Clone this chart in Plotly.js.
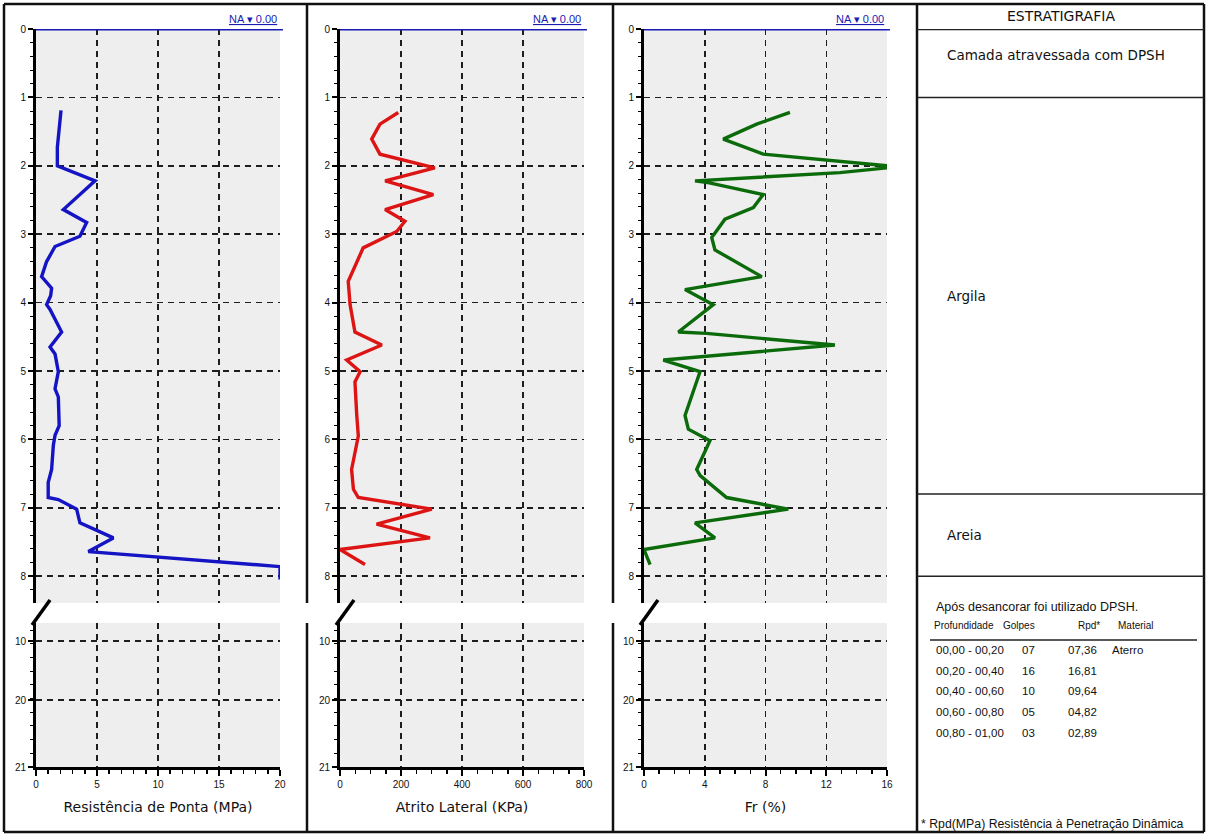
<!DOCTYPE html>
<html>
<head>
<meta charset="utf-8">
<script src="https://cdn.plot.ly/plotly-3.0.1.min.js"></script>
<style>html,body{margin:0;padding:0;background:#fff;}#chart{width:1207px;height:836px;}</style>
</head>
<body>
<div id="chart"></div>
<script>
// ---------------- DATA ----------------
const naDepth = 0.00;
const naLabel = 'NA ▾ 0.00';

// Resistência de Ponta (MPa)
const qcDepth = [1.19,1.50,1.73,2.00,2.22,2.64,2.83,3.03,3.18,3.40,3.62,3.79,3.90,4.03,4.10,4.43,4.65,4.75,5.01,5.26,5.38,5.80,5.94,6.09,6.44,6.63,6.85,6.88,7.02,7.22,7.44,7.64,7.86,8.05];
const qcValue = [2.05,1.90,1.75,1.75,4.84,2.24,4.15,3.60,1.56,0.87,0.46,1.28,1.20,0.87,1.15,2.10,1.15,1.56,1.83,1.56,1.83,1.90,1.56,1.42,1.28,1.00,1.00,1.83,3.33,3.60,6.34,4.29,20.0,20.0];

// Atrito Lateral (KPa)
const fsDepth = [1.22,1.39,1.61,1.83,2.03,2.22,2.42,2.64,2.81,2.96,3.20,3.40,3.69,4.03,4.43,4.62,4.84,5.01,5.16,5.65,5.95,6.44,6.73,6.85,7.02,7.24,7.44,7.61,7.83];
const fsValue = [191,131,104,131,311,148,306,148,213,186,76,55,27,33,49,137,22,66,49,55,60,38,44,60,301,120,295,0,82];

// Fr (%)
const frDepth = [1.22,1.39,1.61,1.83,2.00,2.03,2.10,2.22,2.25,2.42,2.61,2.78,3.05,3.23,3.62,3.81,4.03,4.43,4.45,4.62,4.84,5.01,5.65,5.85,6.02,6.44,6.53,6.85,7.02,7.22,7.44,7.61,7.83];
const frValue = [9.61,7.42,5.22,7.85,16.0,16.0,12.9,3.36,4.30,7.85,7.20,5.33,4.46,4.67,7.75,2.70,4.56,2.26,4.10,12.57,1.27,3.69,2.70,2.92,4.34,3.47,3.70,5.44,9.50,3.36,4.67,0.00,0.40];

// Axis titles and tick settings
const xTitles = ['Resistência de Ponta (MPa)', 'Atrito Lateral (KPa)', 'Fr (%)'];
const xRanges = [[0,20],[0,800],[0,16]];
const xMajor = [5, 200, 4];
const xMinor = [1, 50, 1];
const lowerTickText = ['10','20','21'];

// Stratigraphy
const stratHeader = 'ESTRATIGRAFIA';
const stratNames = ['Camada atravessada com DPSH', 'Argila', 'Areia'];
const stratTop = [0.0, 1.0, 6.8];
const stratBottom = [1.0, 6.8, 8.0];

// DPSH table
const dpshIntro = 'Após desancorar foi utilizado DPSH.';
const dpshHeaders = ['Profundidade', 'Golpes', 'Rpd*', 'Material'];
const dpshDepth = ['00,00 - 00,20','00,20 - 00,40','00,40 - 00,60','00,60 - 00,80','00,80 - 01,00'];
const dpshGolpes = ['07','16','10','05','03'];
const dpshRpd = ['07,36','16,81','09,64','04,82','02,89'];
const dpshMaterial = ['Aterro','','','',''];
const dpshNote = '* Rpd(MPa) Resistência à Penetração Dinâmica';

// ---------------- LAYOUT GEOMETRY ----------------
const W = 1207, H = 836;
const px = v => v / W;
const py = v => 1 - v / H;
const topPx = 29, pxPerM = 68.4, upperBottomPx = 603, lowerTopPx = 623, lowerBottomPx = 767;
const upperRange = [(upperBottomPx - topPx) / pxPerM, 0];
const lowerSpan = (lowerBottomPx - lowerTopPx) / pxPerM;
const lowerTickVals = [(lowerBottomPx - 641) / pxPerM, (lowerBottomPx - 700) / pxPerM, 0];
const panelX = [[36,280],[340,584],[644,887]];
const sepX = [307, 613];
const stratX = [917, 1204];

const colors = ['#1414c4', '#dd1414', '#0b6b0b'];
const seriesDepth = [qcDepth, fsDepth, frDepth];
const seriesValue = [qcValue, fsValue, frValue];

const FONT = 'DejaVu Sans, Liberation Sans, sans-serif';
const TFONT = 'Liberation Sans, Arial, sans-serif';
const gridStyle = {showgrid:true, gridcolor:'#1e1e1e', gridwidth:1.5, griddash:'6px,5px'};

const layout = {
  width: W, height: H,
  margin: {l:0, r:0, t:0, b:0},
  paper_bgcolor: '#ffffff',
  plot_bgcolor: '#eeeeee',
  showlegend: false,
  font: {family: FONT, color: '#111'},
  shapes: [],
  annotations: []
};
const data = [];

for (let i = 0; i < 3; i++) {
  const xn = i === 0 ? 'x' : 'x' + (i + 1);
  const yUp = 2 * i + 1 === 1 ? 'y' : 'y' + (2 * i + 1);
  const yLo = 'y' + (2 * i + 2);
  const xKey = i === 0 ? 'xaxis' : 'xaxis' + (i + 1);
  const yUpKey = yUp === 'y' ? 'yaxis' : 'yaxis' + (2 * i + 1);
  const yLoKey = 'yaxis' + (2 * i + 2);

  layout[xKey] = Object.assign({
    domain: [px(panelX[i][0]), px(panelX[i][1])],
    range: xRanges[i], anchor: yLo, side: 'bottom',
    showline: true, linewidth: 3, linecolor: '#000',
    ticks: 'outside', ticklen: 6, tickwidth: 2, tickcolor: '#000',
    tick0: 0, dtick: xMajor[i],
    minor: {tick0: 0, dtick: xMinor[i], ticks: 'outside', ticklen: 4, tickwidth: 1.5, tickcolor: '#000', showgrid: false},
    zeroline: false, fixedrange: true, automargin: false,
    tickfont: {size: 10, family: TFONT, color: '#111'},
    title: {text: xTitles[i], font: {size: 14, family: FONT, color: '#111'}, standoff: 14}
  }, gridStyle);

  layout[yUpKey] = Object.assign({
    domain: [py(upperBottomPx), py(topPx)],
    range: upperRange, anchor: xn,
    showline: true, linewidth: 3, linecolor: '#000',
    ticks: 'outside', ticklen: 5, tickwidth: 2, tickcolor: '#000',
    tick0: 0, dtick: 1,
    minor: {tick0: 0, dtick: 0.2, ticks: 'outside', ticklen: 3, tickwidth: 1, tickcolor: '#000', showgrid: false},
    zeroline: false, fixedrange: true, automargin: false,
    tickfont: {size: 10, family: TFONT, color: '#111'}
  }, gridStyle);

  layout[yLoKey] = Object.assign({
    domain: [py(lowerBottomPx), py(lowerTopPx)],
    range: [0, lowerSpan], anchor: xn,
    showline: true, linewidth: 3, linecolor: '#000',
    ticks: 'outside', ticklen: 5, tickwidth: 2, tickcolor: '#000',
    tickmode: 'array', tickvals: lowerTickVals, ticktext: lowerTickText,
    minor: {tickmode: 'linear', tick0: 0, dtick: 0.2, ticks: 'outside', ticklen: 3, tickwidth: 1, tickcolor: '#000', showgrid: false},
    zeroline: false, fixedrange: true, automargin: false,
    tickfont: {size: 10, family: TFONT, color: '#111'}
  }, gridStyle);

  data.push({
    type: 'scatter', mode: 'lines',
    x: seriesValue[i], y: seriesDepth[i],
    xaxis: xn, yaxis: yUp,
    line: {color: colors[i], width: 3.4},
    hoverinfo: 'x+y'
  });
  data.push({type: 'scatter', mode: 'lines', x: [], y: [], xaxis: xn, yaxis: yLo, hoverinfo: 'skip'});

  // NA water level line + label
  layout.shapes.push({type: 'line', xref: xn + ' domain', yref: yUp, x0: 0, x1: 1.012, y0: naDepth, y1: naDepth,
    line: {color: '#1a1ab4', width: 3}});
  layout.annotations.push({xref: xn + ' domain', yref: yUp, x: 0.995, y: naDepth, xanchor: 'right', yanchor: 'bottom',
    yshift: 2, showarrow: false, text: '<u>' + naLabel + '</u>', font: {size: 11, family: TFONT, color: '#1a1ab4'}});

  // axis break slash
  layout.shapes.push({type: 'line', xref: xn + ' domain', yref: 'paper',
    x0: -4 / 244, x1: 14 / 244, y0: py(lowerTopPx + 2), y1: py(upperBottomPx - 3),
    line: {color: '#000', width: 3.5}});
}

// Frame and separators
const frame = {color: '#111', width: 2.5};
layout.shapes.push({type: 'line', xref: 'paper', yref: 'paper', x0: px(4), x1: px(4), y0: py(4), y1: py(832), line: frame});
layout.shapes.push({type: 'line', xref: 'paper', yref: 'paper', x0: px(1204), x1: px(1204), y0: py(4), y1: py(832), line: frame});
layout.shapes.push({type: 'line', xref: 'paper', yref: 'paper', x0: px(4), x1: px(1204), y0: py(4), y1: py(4), line: frame});
layout.shapes.push({type: 'line', xref: 'paper', yref: 'paper', x0: px(4), x1: px(1204), y0: py(832), y1: py(832), line: frame});
sepX.forEach(s => {
  layout.shapes.push({type: 'line', xref: 'paper', yref: 'paper', x0: px(s), x1: px(s), y0: py(4), y1: py(upperBottomPx), line: frame});
  layout.shapes.push({type: 'line', xref: 'paper', yref: 'paper', x0: px(s), x1: px(s), y0: py(lowerTopPx), y1: py(832), line: frame});
});
layout.shapes.push({type: 'line', xref: 'paper', yref: 'paper', x0: px(stratX[0]), x1: px(stratX[0]), y0: py(4), y1: py(832), line: frame});

// Stratigraphy layers
layout.annotations.push({xref: 'paper', yref: 'paper', x: px((stratX[0] + stratX[1]) / 2), y: py(16), xanchor: 'center', yanchor: 'middle',
  showarrow: false, text: stratHeader, font: {size: 14, family: FONT, color: '#111'}});
const bounds = [stratTop[0]].concat(stratBottom);
bounds.forEach((b, k) => {
  layout.shapes.push({type: 'line', xref: 'paper', yref: 'y', x0: px(stratX[0]), x1: px(stratX[1]), y0: b, y1: b,
    line: {color: '#222', width: k === 0 ? 2.5 : 1.5}});
});
stratNames.forEach((n, k) => {
  const first = k === 0;
  layout.annotations.push({xref: 'paper', yref: 'y', x: px(945), y: first ? stratTop[k] : (stratTop[k] + stratBottom[k]) / 2,
    yshift: first ? -16 : 0, xanchor: 'left', yanchor: first ? 'top' : 'middle', showarrow: false, text: n,
    font: {size: 13.5, family: FONT, color: '#111'}});
});

// DPSH table
const tAnn = (t, x, y, size) => layout.annotations.push({xref: 'paper', yref: 'paper', x: px(x), y: py(y),
  xanchor: 'left', yanchor: 'middle', showarrow: false, text: t, font: {size: size || 11.5, family: TFONT, color: '#111'}});
tAnn(dpshIntro, 934, 607, 12.5);
const headX = [932, 1001, 1076, 1116];
dpshHeaders.forEach((h, k) => tAnn(h, headX[k], 625, 10));
layout.shapes.push({type: 'line', xref: 'paper', yref: 'paper', x0: px(930), x1: px(1197), y0: py(640), y1: py(640), line: {color: '#222', width: 1.5}});
const colX = [934, 1020, 1066, 1110];
dpshDepth.forEach((d, r) => {
  const y = 650 + r * 20.7;
  tAnn(d, colX[0], y, 11.5);
  tAnn(dpshGolpes[r], colX[1], y, 11.5);
  tAnn(dpshRpd[r], colX[2], y, 11.5);
  if (dpshMaterial[r]) tAnn(dpshMaterial[r], colX[3], y, 11.5);
});
tAnn(dpshNote, 919, 824, 12.3);

Plotly.newPlot('chart', data, layout, {displayModeBar: false, staticPlot: true});
</script>
</body>
</html>
